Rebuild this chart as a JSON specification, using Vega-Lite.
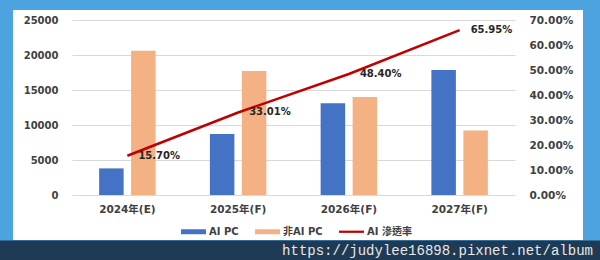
{
  "$schema": "https://vega.github.io/schema/vega-lite/v6.json",
  "width": 570,
  "height": 230,
  "autosize": {"type": "none"},
  "padding": {"left": 13, "top": 10, "right": 17, "bottom": 20},
  "background": "#4DA3DF",
  "config": {
    "view": {"fill": "#FFFFFF", "stroke": null},
    "font": "DejaVu Sans",
    "axis": {
      "labelFont": "DejaVu Sans, Noto Sans CJK TC",
      "labelFontWeight": "bold",
      "labelColor": "#404040",
      "labelFontSize": 10,
      "ticks": false,
      "domain": false,
      "title": null,
      "labelOverlap": false
    }
  },
  "datasets": {
    "bars": [
      {"year": "2024年(E)", "series": "AI PC", "value": 3800},
      {"year": "2024年(E)", "series": "非AI PC", "value": 20600},
      {"year": "2025年(F)", "series": "AI PC", "value": 8700},
      {"year": "2025年(F)", "series": "非AI PC", "value": 17700},
      {"year": "2026年(F)", "series": "AI PC", "value": 13100},
      {"year": "2026年(F)", "series": "非AI PC", "value": 14000},
      {"year": "2027年(F)", "series": "AI PC", "value": 17850},
      {"year": "2027年(F)", "series": "非AI PC", "value": 9200}
    ],
    "rate": [
      {"year": "2024年(E)", "rate": 0.157},
      {"year": "2025年(F)", "rate": 0.3301},
      {"year": "2026年(F)", "rate": 0.484},
      {"year": "2027年(F)", "rate": 0.6595}
    ],
    "site": [
      {"site": "https://judylee16898.pixnet.net/album"}
    ]
  },
  "layer": [
    {
      "layer": [
        {
          "data": {"name": "bars"},
          "mark": {"type": "bar"},
          "encoding": {
            "x": {
              "field": "year", "type": "nominal", "sort": null,
              "scale": {"type": "band", "range": [59, 502], "paddingInner": 0.49, "paddingOuter": 0.245},
              "axis": {"orient": "bottom", "offset": -45, "labelPadding": 9, "labelAngle": 0, "grid": false, "labelFontSize": 10.5}
            },
            "xOffset": {
              "field": "series", "type": "nominal", "sort": ["AI PC", "非AI PC"],
              "scale": {"paddingInner": 0.234, "paddingOuter": 0}
            },
            "y": {
              "field": "value", "type": "quantitative",
              "scale": {"domain": [0, 25000], "range": [185, 10]},
              "axis": {"orient": "left", "offset": -50, "labelPadding": 5, "values": [0, 5000, 10000, 15000, 20000, 25000], "format": "d", "grid": true, "gridColor": "#D9D9D9", "gridWidth": 1}
            },
            "color": {
              "field": "series", "type": "nominal",
              "scale": {"domain": ["AI PC", "非AI PC", "AI 滲透率"], "range": ["#4472C4", "#F4B183", "#C00000"]},
              "legend": {
                "orient": "none", "legendX": 168, "legendY": 209,
                "direction": "horizontal", "title": null, "padding": 0,
                "symbolSize": 625, "labelOffset": 3, "columnPadding": 16,
                "labelFont": "DejaVu Sans, Noto Sans CJK TC", "labelFontWeight": "bold",
                "labelFontSize": 10, "labelColor": "#404040", "symbolStrokeWidth": 0,
                "encode": {
                  "symbols": {
                    "update": {
                      "shape": {"signal": "datum.value === 'AI 滲透率' ? 'M-1,-0.09H1V0.09H-1Z' : 'M-1,-0.2H1V0.2H-1Z'"},
                      "fill": {"signal": "datum.value === 'AI PC' ? '#4472C4' : datum.value === '非AI PC' ? '#F4B183' : '#C00000'"},
                      "strokeWidth": {"value": 0},
                      "opacity": {"value": 1}
                    }
                  }
                }
              }
            }
          }
        },
        {
          "layer": [
            {
              "data": {"name": "rate"},
              "mark": {"type": "line", "strokeWidth": 2.5},
              "encoding": {
                "x": {"field": "year", "type": "nominal", "sort": null},
                "y": {
                  "field": "rate", "type": "quantitative",
                  "scale": {"domain": [0, 0.7], "range": [185, 10]},
                  "axis": {"orient": "right", "offset": -54, "labelPadding": 0, "values": [0, 0.1, 0.2, 0.3, 0.4, 0.5, 0.6, 0.7], "format": ".2%", "grid": false, "labelOverlap": false, "labelFlush": false, "labelFontSize": 10.5}
                },
                "color": {"datum": "AI 滲透率"}
              }
            },
            {
              "data": {"name": "rate"},
              "mark": {"type": "text", "align": "left", "baseline": "middle", "dx": 11, "fontWeight": "bold", "fontSize": 10, "color": "#262626"},
              "encoding": {
                "x": {"field": "year", "type": "nominal", "sort": null},
                "y": {
                  "field": "rate", "type": "quantitative",
                  "scale": {"domain": [0, 0.7], "range": [185, 10]},
                  "axis": {"orient": "right", "offset": -54, "labelPadding": 0, "values": [0, 0.1, 0.2, 0.3, 0.4, 0.5, 0.6, 0.7], "format": ".2%", "grid": false, "labelOverlap": false, "labelFlush": false, "labelFontSize": 10.5}
                },
                "text": {"field": "rate", "format": ".2%"}
              }
            }
          ]
        }
      ],
      "resolve": {"scale": {"y": "independent"}}
    },
    {
      "data": {"name": "site"},
      "mark": {"type": "point", "opacity": 0},
      "encoding": {
        "x": {
          "field": "site", "type": "nominal",
          "axis": {
            "orient": "bottom", "offset": 17, "domain": true, "domainColor": "#1E3A54",
            "domainWidth": 34, "domainCap": "square", "ticks": false, "tickSize": 0,
            "labels": false,
            "title": "https://judylee16898.pixnet.net/album",
            "titleX": 424, "titleY": -7, "titleAlign": "center", "titleBaseline": "middle",
            "titleFont": "Liberation Mono", "titleFontWeight": "normal", "titleFontSize": 14,
            "titleColor": "#E8E8E8", "titleLimit": 0, "grid": false
          }
        }
      }
    }
  ],
  "resolve": {"scale": {"x": "independent", "y": "independent"}}
}
